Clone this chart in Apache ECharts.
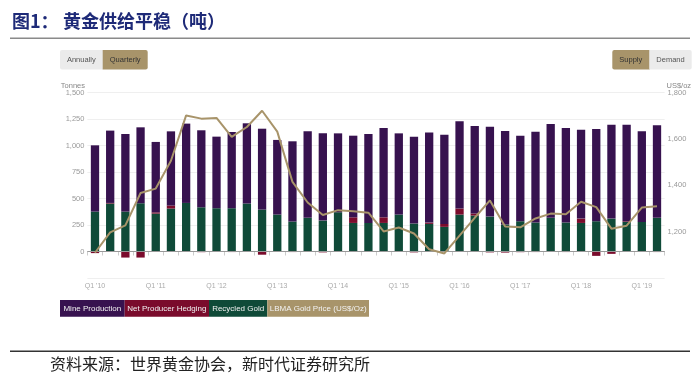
<!DOCTYPE html>
<html>
<head>
<meta charset="utf-8">
<script src="https://cdn.jsdelivr.net/npm/echarts@6/dist/echarts.min.js"></script>
<style>
html,body{margin:0;padding:0;background:#fff;}
#chart{width:700px;height:381px;}
</style>
</head>
<body>
<div id="chart"></div>
<script>
const categories = [
 "Q1 '10","Q2 '10","Q3 '10","Q4 '10",
 "Q1 '11","Q2 '11","Q3 '11","Q4 '11",
 "Q1 '12","Q2 '12","Q3 '12","Q4 '12",
 "Q1 '13","Q2 '13","Q3 '13","Q4 '13",
 "Q1 '14","Q2 '14","Q3 '14","Q4 '14",
 "Q1 '15","Q2 '15","Q3 '15","Q4 '15",
 "Q1 '16","Q2 '16","Q3 '16","Q4 '16",
 "Q1 '17","Q2 '17","Q3 '17","Q4 '17",
 "Q1 '18","Q2 '18","Q3 '18","Q4 '18",
 "Q1 '19","Q2 '19"
];
const minePrduction = [626,683,733,717,665,701,749,727,676,720,758,764,705,758,817,824,745,771,840,844,767,821,850,843,824,827,849,883,808,858,887,893,840,871,887,912,855,874];
const netProducerHedging = [-15,6,-57,-57,12,28,0,-6,-3,-5,0,-30,-3,-5,-3,-8,0,53,-3,53,-3,-8,12,28,57,19,-8,-10,-6,-5,0,-5,41,-41,-22,6,0,-5];
const recycledGold = [377,453,377,456,358,406,459,418,409,409,453,396,349,283,318,292,371,270,270,270,349,264,261,233,349,340,330,255,286,274,318,274,270,286,311,280,280,318];
const goldPrice = [1109,1197,1227,1367,1386,1506,1702,1688,1691,1609,1652,1722,1632,1415,1326,1272,1293,1288,1282,1201,1218,1192,1124,1106,1183,1260,1335,1222,1219,1257,1278,1275,1329,1306,1213,1226,1304,1310];
const leftTicks = [-250, 1500, 250];
const rightTicks = [1000, 1800, 200];

const C_MINE = '#37124f', C_HEDGE = '#7a0b2c', C_REC = '#0f4a38', C_GOLD = '#a8946a';
const FONT = 'Liberation Sans, Arial, sans-serif';
const fmt = v => v.toLocaleString('en-US');

const chart = echarts.init(document.getElementById('chart'));
const legendItems = [
  {name:'Mine Production', color:C_MINE, x:60, w:64.7},
  {name:'Net Producer Hedging', color:C_HEDGE, x:124.7, w:84.3},
  {name:'Recycled Gold', color:C_REC, x:209, w:58.3},
  {name:'LBMA Gold Price (US$/Oz)', color:C_GOLD, x:267.3, w:101.7}
];
const graphics = [
  {type:'text', left:12, top:12, style:{text:'图1：', font:'bold 18px "Noto Sans CJK SC"', fill:'#1e2a78'}},
  {type:'text', left:63, top:12, style:{text:'黄金供给平稳（吨）', font:'bold 18px "Noto Sans CJK SC"', fill:'#1e2a78'}},
  {type:'rect', shape:{x:10,y:37.5,width:680,height:1.5}, style:{fill:'#8a8a8a'}},
  {type:'rect', shape:{x:60,y:50,width:43,height:19.5,r:[2,0,0,2]}, style:{fill:'#ebebeb'}},
  {type:'rect', shape:{x:102.7,y:50,width:45,height:19.5,r:[0,2,2,0]}, style:{fill:C_GOLD}},
  {type:'text', x:81.3, y:60, style:{text:'Annually', font:'7.5px '+FONT, fill:'#555', align:'center', verticalAlign:'middle'}},
  {type:'text', x:125.2, y:60, style:{text:'Quarterly', font:'7.5px '+FONT, fill:'#333', align:'center', verticalAlign:'middle'}},
  {type:'rect', shape:{x:612.3,y:50,width:37.5,height:19.5,r:[2,0,0,2]}, style:{fill:C_GOLD}},
  {type:'rect', shape:{x:649.3,y:50,width:42.4,height:19.5,r:[0,2,2,0]}, style:{fill:'#ebebeb'}},
  {type:'text', x:630.8, y:60, style:{text:'Supply', font:'7.5px '+FONT, fill:'#333', align:'center', verticalAlign:'middle'}},
  {type:'text', x:670.5, y:60, style:{text:'Demand', font:'7.5px '+FONT, fill:'#555', align:'center', verticalAlign:'middle'}},
  {type:'text', x:85, y:85.5, style:{text:'Tonnes', font:'7.5px '+FONT, fill:'#888', align:'right', verticalAlign:'middle'}},
  {type:'text', x:666.5, y:85.5, style:{text:'US$/oz', font:'7.5px '+FONT, fill:'#888', align:'left', verticalAlign:'middle'}},
  {type:'rect', shape:{x:10,y:350.5,width:680,height:1.5}, style:{fill:'#333'}},
  {type:'text', x:50, y:364, style:{text:'资料来源：世界黄金协会，新时代证券研究所', font:'16px "Noto Sans CJK SC"', fill:'#222', align:'left', verticalAlign:'middle'}}
];
legendItems.forEach(it => {
  graphics.push({type:'rect', shape:{x:it.x, y:300, width:it.w, height:16.7}, style:{fill:it.color}});
  graphics.push({type:'text', x:it.x+it.w/2, y:308.5, style:{text:it.name, font:'8px '+FONT, fill:'#f2f2f2', align:'center', verticalAlign:'middle'}});
});

chart.setOption({
  animation:false,
  textStyle:{fontFamily:FONT},
  grid:{left:87.4, right:35.4, top:92.7, bottom:103, containLabel:false},
  xAxis:{
    type:'category', data:categories, boundaryGap:true,
    axisLine:{lineStyle:{color:'#ccc', width:1}},
    axisTick:{show:true, interval:0, length:4, lineStyle:{color:'#ccc'}},
    axisLabel:{interval:3, fontSize:7, color:'#aaa', margin:5},
    splitLine:{show:false}
  },
  yAxis:[
    {type:'value', min:leftTicks[0], max:leftTicks[1], interval:leftTicks[2],
     axisLine:{show:false}, axisTick:{show:false},
     axisLabel:{showMinLabel:false, fontSize:7.5, color:'#999', margin:3, formatter:fmt},
     splitLine:{lineStyle:{color:'#efefef', width:1}}},
    {type:'value', min:rightTicks[0], max:rightTicks[1], interval:rightTicks[2],
     axisLine:{show:false}, axisTick:{show:false},
     axisLabel:{showMinLabel:false, fontSize:7.5, color:'#999', margin:3, formatter:fmt},
     splitLine:{show:false}}
  ],
  graphic:graphics,
  series:[
    {name:'Recycled Gold', type:'bar', stack:'supply', data:recycledGold, barWidth:8.3, itemStyle:{color:C_REC},
     markLine:{silent:true, symbol:'none', label:{show:false}, lineStyle:{color:'#999', width:1, type:'solid'}, data:[{yAxis:0}]}},
    {name:'Net Producer Hedging', type:'bar', stack:'supply', data:netProducerHedging, barWidth:8.3, itemStyle:{color:C_HEDGE}},
    {name:'Mine Production', type:'bar', stack:'supply', data:minePrduction, barWidth:8.3, itemStyle:{color:C_MINE}},
    {name:'LBMA Gold Price (US$/Oz)', type:'line', yAxisIndex:1, data:goldPrice, symbol:'none', z:5,
     lineStyle:{color:C_GOLD, width:2}}
  ]
});
</script>
</body>
</html>
